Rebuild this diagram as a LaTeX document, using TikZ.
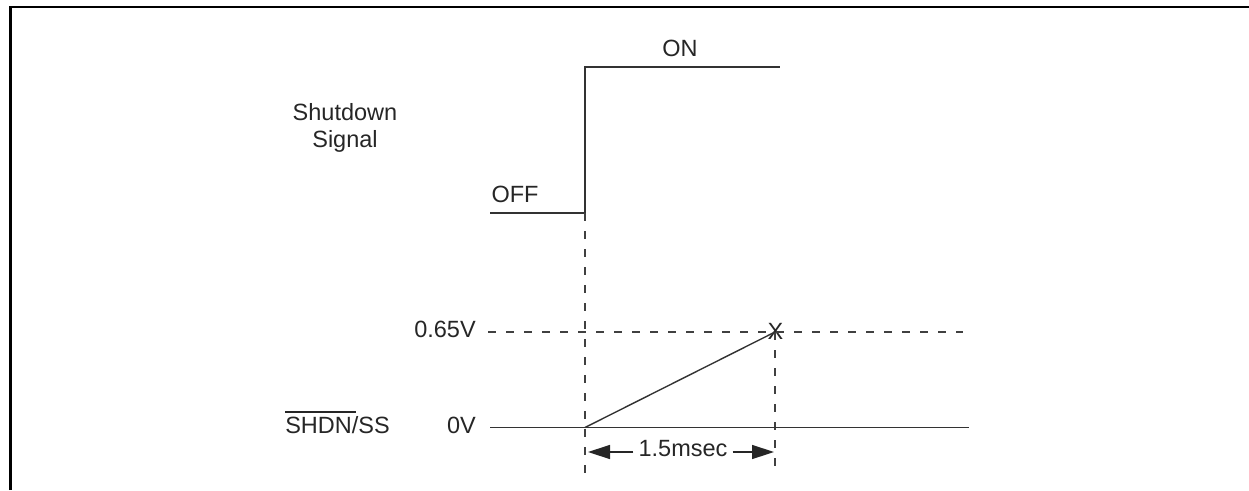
\documentclass[tikz,border=0pt]{standalone}
\usepackage{fontspec}
\setmainfont{Liberation Sans}
\usetikzlibrary{arrows.meta}
\begin{document}
\begin{tikzpicture}[x=1pt,y=-1pt,
  lbl/.style={font=\fontsize{23.5}{28}\selectfont, text=black!85, inner sep=0pt, anchor=base},
  sig/.style={line width=1.4pt, draw=black!80},
  guide/.style={line width=1.2pt, draw=black!75, dash pattern=on 8pt off 10pt},
  dimline/.style={line width=1.4pt, draw=black!85, -{Triangle[length=22pt,width=14pt]}},
  frameline/.style={line width=2.2pt, draw=black}]
\useasboundingbox (0,0) rectangle (1249,490);
% frame (open at right and bottom)
\coordinate (fbl) at (10.5,490);
\coordinate (ftl) at (10.5,6.7);
\coordinate (ftr) at (1249,6.7);
\draw[frameline] (fbl) -- (ftl) -- (ftr);

% key points
\coordinate (offL) at (490,213);
\coordinate (step) at (585,213);
\coordinate (stepTop) at (585,67);
\coordinate (onR) at (780,67);
\coordinate (leftBot) at (585,475);
\coordinate (hiL) at (488,332);
\coordinate (hiR) at (963,332);
\coordinate (cross) at (775,332);
\coordinate (rightBot) at (775,470);
\coordinate (zeroL) at (490,427.5);
\coordinate (zeroR) at (969,427.5);
\coordinate (rampStart) at (585,427.5);
\coordinate (dl) at (588,452);
\coordinate (dr) at (774,452);

% labels
\node[lbl] (shut1) at (345,120) {Shutdown};
\node[lbl] (shut2) at (345,147) {Signal};
\node[lbl] (on) at (680,56.5) {ON};
\node[lbl] (off) at (515,202.5) {OFF};
\node[lbl] (v065) at (445,337) {0.65V};
\node[lbl] (v0) at (461.5,433) {0V};
\node[lbl] (shdn) at (337.5,433) {\rlap{\rule[20.5pt]{70.5pt}{1.2pt}}SHDN/SS};
\node[lbl] (xm) at (775.5,339) {X};
\node[lbl, inner xsep=5pt] (dimtxt) at (683,456) {1.5msec};

% shutdown signal
\draw[sig] (offL) -- (step) -- (stepTop) -- (onR);
% guides
\draw[guide] (step) -- (leftBot);
\draw[guide] (hiL) -- (hiR);
\draw[guide] (cross) -- (rightBot);
% SHDN/SS trace
\draw[sig] (zeroL) -- (zeroR);
\draw[sig] (rampStart) -- (cross);
% dimension
\draw[dimline] (dimtxt.west |- dl) -- (dl);
\draw[dimline] (dimtxt.east |- dr) -- (dr);
\end{tikzpicture}
\end{document}
